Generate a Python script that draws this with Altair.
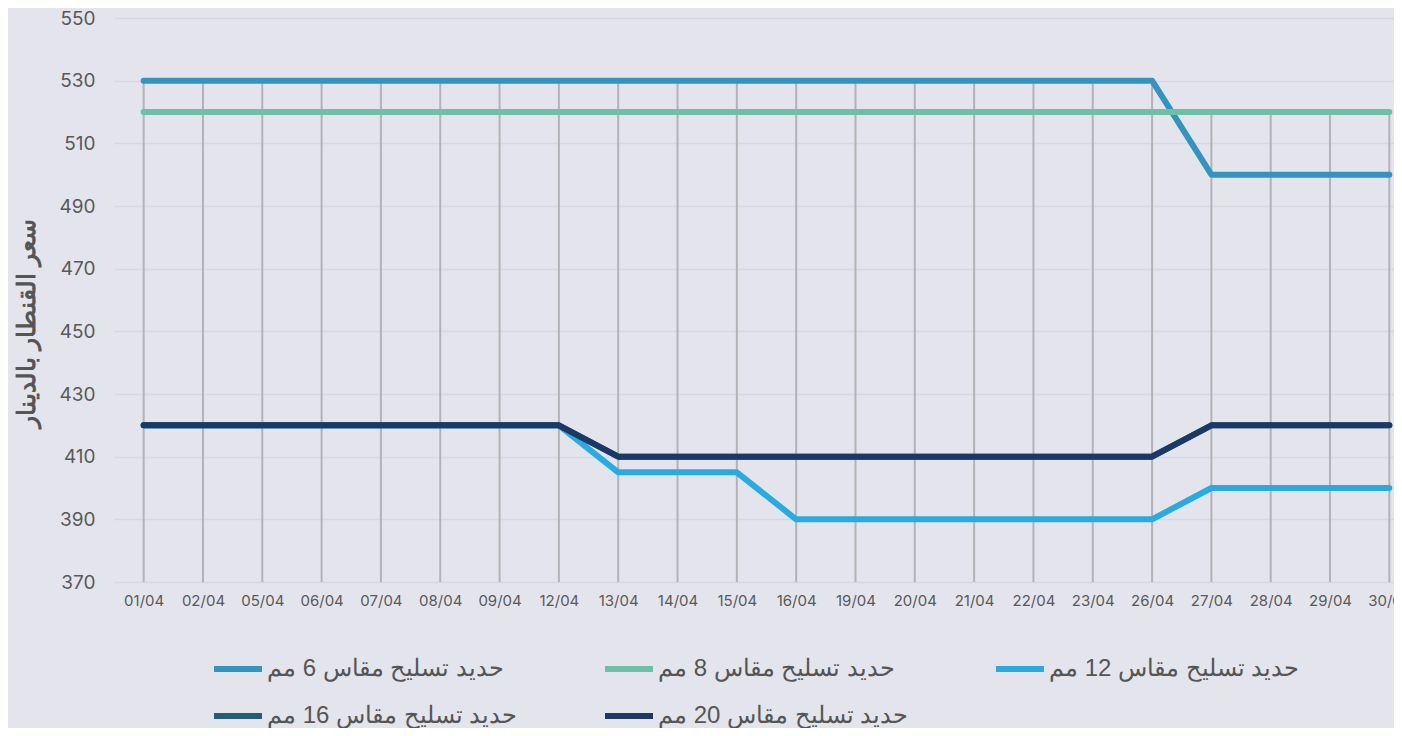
import altair as alt
import pandas as pd

dates = ["01/04", "02/04", "05/04", "06/04", "07/04", "08/04", "09/04", "12/04",
         "13/04", "14/04", "15/04", "16/04", "19/04", "20/04", "21/04", "22/04",
         "23/04", "26/04", "27/04", "28/04", "29/04", "30/04"]

series = ["حديد تسليح مقاس 6 مم", "حديد تسليح مقاس 8 مم", "حديد تسليح مقاس 12 مم",
          "حديد تسليح مقاس 16 مم", "حديد تسليح مقاس 20 مم"]

s6 = [530, 530, 530, 530, 530, 530, 530, 530, 530, 530, 530, 530, 530, 530, 530, 530, 530, 530, 500, 500, 500, 500]
s8 = [520, 520, 520, 520, 520, 520, 520, 520, 520, 520, 520, 520, 520, 520, 520, 520, 520, 520, 520, 520, 520, 520]
s12 = [420, 420, 420, 420, 420, 420, 420, 420, 405, 405, 405, 390, 390, 390, 390, 390, 390, 390, 400, 400, 400, 400]
s16 = [420, 420, 420, 420, 420, 420, 420, 420, 410, 410, 410, 410, 410, 410, 410, 410, 410, 410, 420, 420, 420, 420]
s20 = [420, 420, 420, 420, 420, 420, 420, 420, 410, 410, 410, 410, 410, 410, 410, 410, 410, 410, 420, 420, 420, 420]

y_ticks = [370, 390, 410, 430, 450, 470, 490, 510, 530, 550]
colors = ["#3494BE", "#6DBFA5", "#29ABE2", "#1F5F7A", "#1C3966"]
widths = [6, 6, 6, 3, 6]

rows = []
for name, vals in zip(series, [s6, s8, s12, s16, s20]):
    for d, v in zip(dates, vals):
        rows.append({"date": d, "series": name, "value": v})
df = pd.DataFrame(rows)

font = "Inter"
x_enc = alt.X("date:N", sort=dates, scale=alt.Scale(type="point", padding=0.5),
              axis=alt.Axis(title=None, labelFontSize=15, labelColor="#595959", labelFont=font,
                            labelPadding=11, ticks=False, domain=False, grid=False, labelAngle=0))
y_enc = alt.Y("value:Q", scale=alt.Scale(domain=[370, 550], nice=False, zero=False),
              axis=alt.Axis(values=y_ticks, title="سعر القنطار بالدينار", titleFontSize=25,
                            titleColor="#555555", titleFontWeight=600, titleX=-88, titleY=305,
                            titleAngle=-90, titleAlign="center", titleBaseline="middle",
                            labelFontSize=19, labelColor="#595959", labelFont=font, labelPadding=19,
                            ticks=False, domain=False, grid=True, gridColor="#d7d8de", gridWidth=1.5))

legend = alt.Legend(title=None, orient="none", legendX=97, legendY=624, columns=3, padding=0,
                    columnPadding=75, rowPadding=8, symbolType="stroke", symbolSize=2304,
                    labelFontSize=24, labelColor="#555555", labelLimit=400, labelOffset=2,
                    direction="horizontal")
color_enc = alt.Color("series:N", scale=alt.Scale(domain=series, range=colors), legend=legend)
sw_enc = alt.StrokeWidth("series:N", scale=alt.Scale(domain=series, range=widths), legend=legend)

drops = alt.Chart(df).mark_rule(color="#b3b3b5", strokeWidth=2).encode(
    x=x_enc, y=alt.Y("max(value):Q", scale=alt.Scale(domain=[370, 550], nice=False, zero=False)),
    y2=alt.datum(370))

layers = [drops]
for name in series:
    layers.append(
        alt.Chart(df).transform_filter(alt.datum.series == name)
        .mark_line(strokeCap="round", strokeJoin="round")
        .encode(x=x_enc, y=y_enc, color=color_enc, strokeWidth=sw_enc)
    )

chart = alt.layer(*layers).properties(
    width=1305, height=564, background="#e4e5ec",
    autosize=alt.AutoSizeParams(type="none"),
    padding={"left": 106, "top": 10, "right": -25, "bottom": 146},
).configure_view(stroke=None)

chart.save("out.html", embed_options={"renderer": "svg", "actions": False})
